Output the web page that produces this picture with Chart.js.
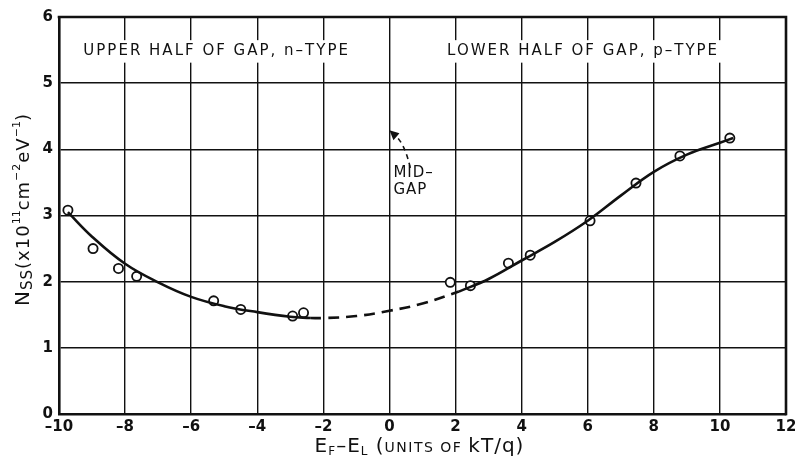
<!DOCTYPE html>
<html>
<head>
<meta charset="utf-8">
<script src="https://cdn.jsdelivr.net/npm/chart.js@4.4.1/dist/chart.umd.min.js"></script>
<style>
  html, body { margin: 0; padding: 0; background: #fff; }
  #wrap { width: 795px; height: 463px; }
</style>
</head>
<body>
<div id="wrap"><canvas id="nssChart" width="795" height="463"></canvas></div>
<script>
// measured points (Ef - Ei in kT/q, Nss in 1e11 cm^-2 eV^-1)
const pontosX = [-9.73, -8.97, -8.2, -7.65, -5.32, -4.5, -2.93, -2.6, 1.84, 2.45, 3.6, 4.26, 6.07, 7.46, 8.79, 10.3];
const pontosY = [3.08, 2.5, 2.2, 2.08, 1.71, 1.58, 1.48, 1.53, 1.99, 1.94, 2.28, 2.4, 2.92, 3.49, 3.9, 4.17];

// fitted curve, left solid part
const curvaEsqX = [-9.73, -9, -8, -7, -6, -5, -4, -3, -2.4];
const curvaEsqY = [3.05, 2.68, 2.27, 1.99, 1.77, 1.63, 1.54, 1.47, 1.45];
// dashed part through mid-gap
const curvaTracX = [-2.4, -2, -1, 0, 1, 2.1];
const curvaTracY = [1.45, 1.45, 1.48, 1.56, 1.67, 1.85];
// right solid part
const curvaDirX = [2.1, 3, 4, 5, 6, 7, 8, 9, 10, 10.4];
const curvaDirY = [1.85, 2.04, 2.32, 2.6, 2.92, 3.3, 3.66, 3.92, 4.1, 4.17];

// tick values
const ticksX = [-10, -8, -6, -4, -2, 0, 2, 4, 6, 8, 10, 12];
const ticksY = [0, 1, 2, 3, 4, 5, 6];

const zip = (xs, ys) => xs.map((x, i) => ({ x: x, y: ys[i] }));
const fonte = '"DejaVu Sans", sans-serif';

// texts and axis titles drawn by hand (sub/superscripts, white boxes)
const anotacoes = {
    id: 'anotacoes',
    afterDatasetsDraw(chart) {
        const c = chart.ctx;
        const sx = chart.scales.x, sy = chart.scales.y;
        const area = chart.chartArea;
        c.save();
        c.fillStyle = '#111';
        c.textBaseline = 'middle';

        const caixa = (txt, xv, yv, size) => {
            c.font = size + 'px ' + fonte;
            c.letterSpacing = '2px';
            const w = c.measureText(txt).width;
            const px = sx.getPixelForValue(xv), py = sy.getPixelForValue(yv);
            c.fillStyle = '#fff';
            c.fillRect(px - w / 2 - 6, py - size * 0.75, w + 12, size * 1.5);
            c.fillStyle = '#111';
            c.textAlign = 'center';
            c.fillText(txt, px, py);
        };
        caixa('UPPER HALF OF GAP, n\u2013TYPE', -5.23, 5.48, 15);
        caixa('LOWER HALF OF GAP, p\u2013TYPE', 5.86, 5.48, 15);

        // MID-GAP note
        c.font = '15px ' + fonte;
        c.letterSpacing = '1px';
        c.textAlign = 'left';
        const mx = sx.getPixelForValue(0.12);
        const mw = c.measureText('MID\u2013').width;
        c.fillStyle = '#fff';
        c.fillRect(mx - 2, sy.getPixelForValue(3.75), mw + 6, 36);
        c.fillStyle = '#111';
        c.fillText('MID\u2013', mx, sy.getPixelForValue(3.64));
        c.fillText('GAP', mx, sy.getPixelForValue(3.38));

        // dashed arrow to mid-gap
        const ax = sx.getPixelForValue(0), ay = sy.getPixelForValue(4.29);
        const bx = sx.getPixelForValue(0.63), by = sy.getPixelForValue(3.72);
        c.strokeStyle = '#111';
        c.lineWidth = 1.6;
        c.setLineDash([5, 4]);
        c.beginPath();
        c.moveTo(bx, by);
        c.quadraticCurveTo(sx.getPixelForValue(0.45), sy.getPixelForValue(4.12), ax + 4, ay + 4);
        c.stroke();
        c.setLineDash([]);
        c.beginPath();
        c.moveTo(ax, ay);
        c.lineTo(ax + 10, ay + 3);
        c.lineTo(ax + 4, ay + 10);
        c.closePath();
        c.fill();

        // frame top and right
        c.lineWidth = 2.6;
        c.beginPath();
        c.moveTo(area.left - 1.3, area.top);
        c.lineTo(area.right, area.top);
        c.lineTo(area.right, area.bottom + 1.3);
        c.stroke();

        // titles made of pieces
        const pecas = (lista) => {
            let w = 0;
            lista.forEach(p => {
                c.font = p[1] + 'px ' + fonte;
                c.letterSpacing = (p[3] || 0) + 'px';
                w += c.measureText(p[0]).width;
            });
            return w;
        };
        const escreve = (lista, x0, y0) => {
            let x = x0;
            c.textAlign = 'left';
            lista.forEach(p => {
                c.font = p[1] + 'px ' + fonte;
                c.letterSpacing = (p[3] || 0) + 'px';
                c.fillText(p[0], x, y0 + p[2]);
                x += c.measureText(p[0]).width;
            });
        };

        // x axis title
        const tituloX = [
            ['E', 20, 0, 1], ['F', 12, 5, 1], ['\u2013E', 20, 0, 1], ['L', 12, 5, 1],
            [' (', 20, 0, 1], ['UNITS OF ', 14, 1, 1.5], ['kT/q', 20, 0, 1], [')', 20, 0]
        ];
        const wx = pecas(tituloX);
        escreve(tituloX, 419 - wx / 2, 447);

        // y axis title, rotated
        const tituloY = [
            ['N', 20, 0, 1], ['SS', 15, 4, 1], ['(x10', 18, 0, 1], ['11', 11, -7],
            ['cm', 18, 0, 1], ['\u22122', 11, -7, 1], ['eV', 18, 0, 1], ['\u22121', 11, -7], [')', 18, 0]
        ];
        const wy = pecas(tituloY);
        c.translate(24, 210 + wy / 2);
        c.rotate(-Math.PI / 2);
        escreve(tituloY, 0, 0);
        c.restore();
    }
};

new Chart(document.getElementById('nssChart').getContext('2d'), {
    type: 'scatter',
    data: {
        datasets: [
            {
                type: 'line', data: zip(curvaEsqX, curvaEsqY),
                borderColor: '#111', borderWidth: 2.6, pointRadius: 0,
                tension: 0.4, fill: false
            },
            {
                type: 'line', data: zip(curvaTracX, curvaTracY),
                borderColor: '#111', borderWidth: 2.6, pointRadius: 0, borderDash: [11, 7],
                tension: 0.4, fill: false
            },
            {
                type: 'line', data: zip(curvaDirX, curvaDirY),
                borderColor: '#111', borderWidth: 2.6, pointRadius: 0,
                tension: 0.4, fill: false
            },
            {
                data: zip(pontosX, pontosY),
                pointRadius: 4.6, pointBorderWidth: 1.8,
                pointBackgroundColor: '#fff', pointBorderColor: '#111'
            }
        ]
    },
    options: {
        responsive: false,
        animation: false,
        layout: { padding: { top: 17, right: 9, left: 0, bottom: 0 } },
        plugins: { legend: { display: false }, tooltip: { enabled: false } },
        scales: {
            x: {
                type: 'linear', min: -10, max: 12,
                afterBuildTicks: s => { s.ticks = ticksX.map(v => ({ value: v })); },
                afterFit: s => { s.height = 49; s.paddingRight = 0; s.paddingLeft = 0; },
                ticks: {
                    color: '#111', padding: 4, maxRotation: 0,
                    font: { family: fonte, size: 15, weight: 'bold' },
                    callback: v => String(v).replace('-', '\u2013')
                },
                grid: { color: '#111', lineWidth: 1.4, drawTicks: false },
                border: { color: '#111', width: 2.6 }
            },
            y: {
                type: 'linear', min: 0, max: 6,
                afterBuildTicks: s => { s.ticks = ticksY.map(v => ({ value: v })); },
                afterFit: s => { s.width = 59; s.paddingTop = 0; s.paddingBottom = 0; },
                ticks: {
                    color: '#111', padding: 6,
                    font: { family: fonte, size: 15, weight: 'bold' }
                },
                grid: { color: '#111', lineWidth: 1.4, drawTicks: false },
                border: { color: '#111', width: 2.6 }
            }
        }
    },
    plugins: [anotacoes]
});
</script>
</body>
</html>
